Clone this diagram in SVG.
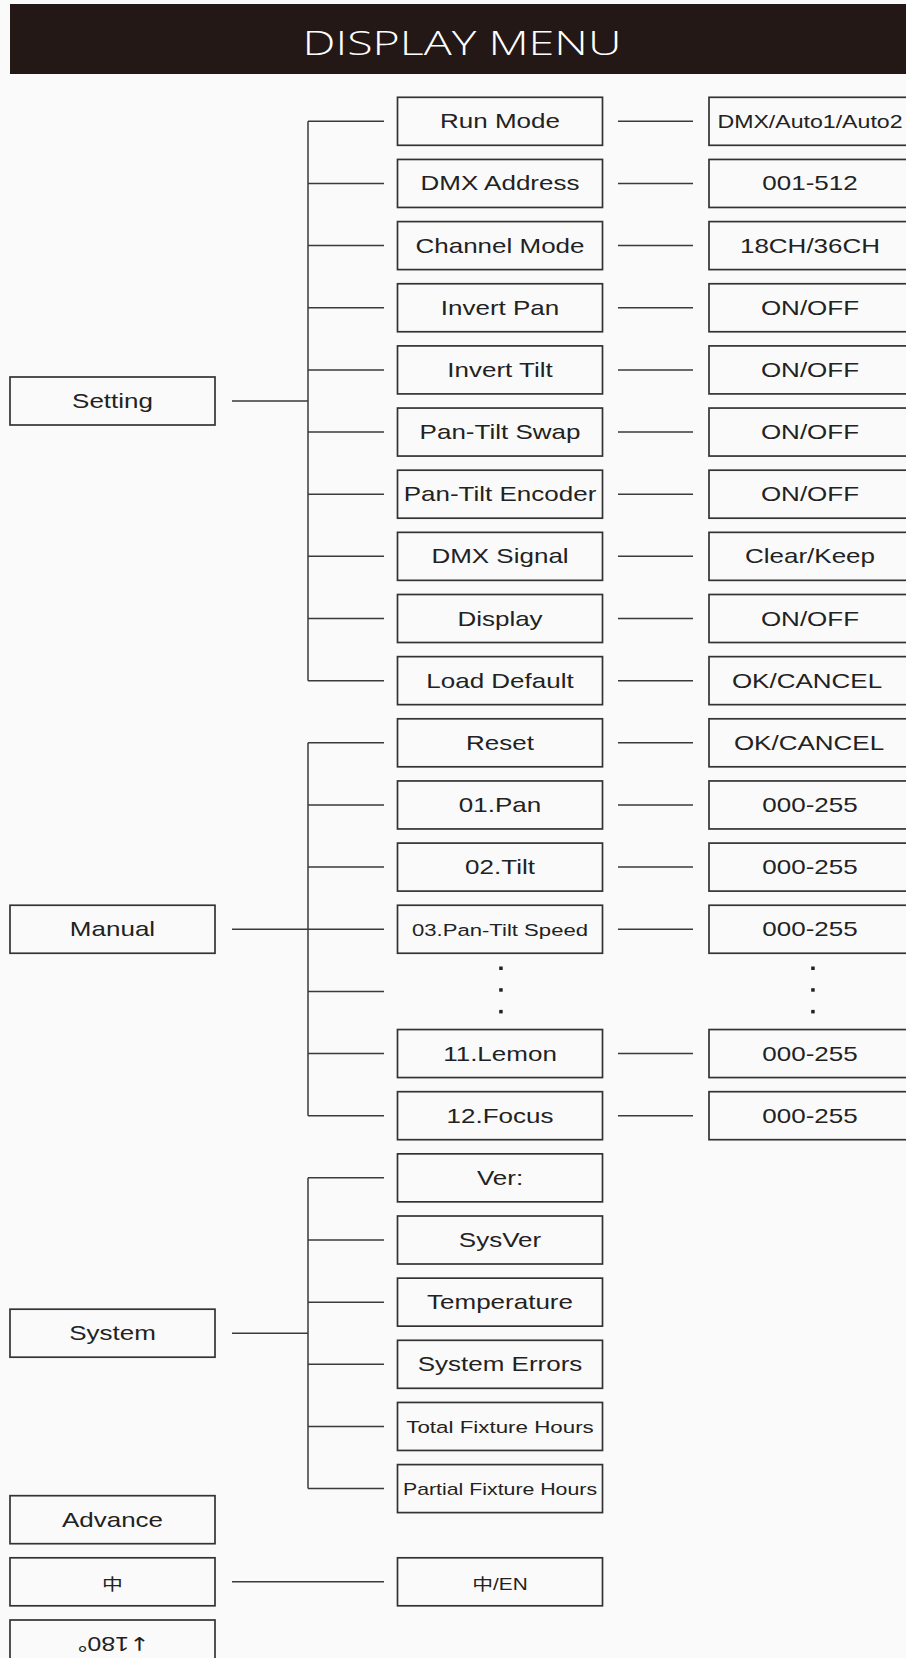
<svg xmlns="http://www.w3.org/2000/svg" width="906" height="1658" viewBox="0 0 906 1658">
<style>
.bx{fill:#fafafa;stroke:#333;stroke-width:1.7}
.ln{fill:none;stroke:#3a3a3a;stroke-width:1.5}
.t{font-family:"Liberation Sans",Arial,sans-serif;font-size:20px;fill:#222;text-anchor:middle}
.s17{font-size:17px}
.cjk{font-family:"Liberation Sans","Noto Sans CJK SC",sans-serif;font-size:16px}
.dot{fill:#222}
</style>
<rect x="0" y="0" width="906" height="1658" fill="#fafafa"/>
<g id="header">
<rect x="10" y="4" width="896" height="70" fill="#231815"/>
<text x="302.5" y="55" textLength="319" lengthAdjust="spacingAndGlyphs" style="font-family:'Open Sans',sans-serif;font-weight:300;font-size:32.5px;fill:#fff">DISPLAY MENU</text>
</g>
<g id="connectors">
<path class="ln" d="M232 401H308M308 121.3V680.65M308 121.3H384M308 183.45H384M308 245.6H384M308 307.75H384M308 369.9H384M308 432.05H384M308 494.2H384M308 556.35H384M308 618.5H384M308 680.65H384"/>
<path class="ln" d="M618 121.3H693M618 183.45H693M618 245.6H693M618 307.75H693M618 369.9H693M618 432.05H693M618 494.2H693M618 556.35H693M618 618.5H693M618 680.65H693"/>
<path class="ln" d="M232 929.25H308M308 742.8V1115.7M308 742.8H384M308 804.95H384M308 867.1H384M308 929.25H384M308 991.4H384M308 1053.55H384M308 1115.7H384"/>
<path class="ln" d="M618 742.8H693M618 804.95H693M618 867.1H693M618 929.25H693M618 1053.55H693M618 1115.7H693"/>
<path class="ln" d="M232 1333.2H308M308 1177.85V1488.6M308 1177.85H384M308 1240H384M308 1302.15H384M308 1364.3H384M308 1426.45H384M308 1488.6H384"/>
<path class="ln" d="M232 1581.8H384"/>
</g>
<g id="setting"><rect class="bx" x="10" y="377" width="205" height="48"/><text class="t" transform="translate(112.5 408) scale(1.3 1)">Setting</text></g>
<g id="manual"><rect class="bx" x="10" y="905.25" width="205" height="48"/><text class="t" transform="translate(112.5 936.2) scale(1.3 1)">Manual</text></g>
<g id="system"><rect class="bx" x="10" y="1309.2" width="205" height="48"/><text class="t" transform="translate(112.5 1340.2) scale(1.3 1)">System</text></g>
<g id="advance"><rect class="bx" x="10" y="1495.7" width="205" height="48"/><text class="t" transform="translate(112.5 1526.7) scale(1.3 1)">Advance</text></g>
<g id="lang"><rect class="bx" x="10" y="1557.8" width="205" height="48"/><text class="t cjk" transform="translate(112.5 1589.5) scale(1.3 1)">中</text></g>
<g id="rotate"><rect class="bx" x="10" y="1620" width="205" height="60"/><text class="t" x="0" y="7" textLength="72" lengthAdjust="spacingAndGlyphs" style="font-size:19.5px" transform="translate(113.5 1644) rotate(180)"><tspan style="font-family:'DejaVu Sans',sans-serif;font-size:19px">↓</tspan>180°</text></g>

<g id="run-mode"><rect class="bx" x="397.5" y="97.3" width="205" height="48"/><text class="t" transform="translate(500 128.3) scale(1.3 1)">Run Mode</text></g>
<g id="dmx-address"><rect class="bx" x="397.5" y="159.45" width="205" height="48"/><text class="t" transform="translate(500 190.45) scale(1.3 1)">DMX Address</text></g>
<g id="channel-mode"><rect class="bx" x="397.5" y="221.6" width="205" height="48"/><text class="t" transform="translate(500 252.6) scale(1.3 1)">Channel Mode</text></g>
<g id="invert-pan"><rect class="bx" x="397.5" y="283.75" width="205" height="48"/><text class="t" transform="translate(500 314.75) scale(1.3 1)">Invert Pan</text></g>
<g id="invert-tilt"><rect class="bx" x="397.5" y="345.9" width="205" height="48"/><text class="t" transform="translate(500 376.9) scale(1.3 1)">Invert Tilt</text></g>
<g id="pan-tilt-swap"><rect class="bx" x="397.5" y="408.05" width="205" height="48"/><text class="t" transform="translate(500 439.05) scale(1.3 1)">Pan-Tilt Swap</text></g>
<g id="pan-tilt-encoder"><rect class="bx" x="397.5" y="470.2" width="205" height="48"/><text class="t" transform="translate(500 501.2) scale(1.3 1)">Pan-Tilt Encoder</text></g>
<g id="dmx-signal"><rect class="bx" x="397.5" y="532.35" width="205" height="48"/><text class="t" transform="translate(500 563.35) scale(1.3 1)">DMX Signal</text></g>
<g id="display"><rect class="bx" x="397.5" y="594.5" width="205" height="48"/><text class="t" transform="translate(500 625.5) scale(1.3 1)">Display</text></g>
<g id="load-default"><rect class="bx" x="397.5" y="656.65" width="205" height="48"/><text class="t" transform="translate(500 687.65) scale(1.3 1)">Load Default</text></g>
<g id="reset"><rect class="bx" x="397.5" y="718.8" width="205" height="48"/><text class="t" transform="translate(500 749.8) scale(1.3 1)">Reset</text></g>
<g id="pan"><rect class="bx" x="397.5" y="780.95" width="205" height="48"/><text class="t" transform="translate(500 811.95) scale(1.3 1)">01.Pan</text></g>
<g id="tilt"><rect class="bx" x="397.5" y="843.1" width="205" height="48"/><text class="t" transform="translate(500 874.1) scale(1.3 1)">02.Tilt</text></g>
<g id="pan-tilt-speed"><rect class="bx" x="397.5" y="905.25" width="205" height="48"/><text class="t s17" transform="translate(500 935.5) scale(1.3 1)">03.Pan-Tilt Speed</text></g>
<g id="mid-dots"><rect class="dot" x="499.2" y="966.5" width="3.5" height="3.5"/><rect class="dot" x="499.2" y="988.2" width="3.5" height="3.5"/><rect class="dot" x="499.2" y="1009.9" width="3.5" height="3.5"/></g>
<g id="lemon"><rect class="bx" x="397.5" y="1029.55" width="205" height="48"/><text class="t" transform="translate(500 1060.55) scale(1.3 1)">11.Lemon</text></g>
<g id="focus"><rect class="bx" x="397.5" y="1091.7" width="205" height="48"/><text class="t" transform="translate(500 1122.7) scale(1.3 1)">12.Focus</text></g>
<g id="ver"><rect class="bx" x="397.5" y="1153.85" width="205" height="48"/><text class="t" transform="translate(500 1184.85) scale(1.3 1)">Ver:</text></g>
<g id="sysver"><rect class="bx" x="397.5" y="1216" width="205" height="48"/><text class="t" transform="translate(500 1247) scale(1.3 1)">SysVer</text></g>
<g id="temperature"><rect class="bx" x="397.5" y="1278.15" width="205" height="48"/><text class="t" transform="translate(500 1308.9) scale(1.3 1)">Temperature</text></g>
<g id="system-errors"><rect class="bx" x="397.5" y="1340.3" width="205" height="48"/><text class="t" transform="translate(500 1371.3) scale(1.3 1)">System Errors</text></g>
<g id="total-hours"><rect class="bx" x="397.5" y="1402.45" width="205" height="48"/><text class="t" style="font-size:17.2px" transform="translate(500 1432.7) scale(1.3 1)">Total Fixture Hours</text></g>
<g id="partial-hours"><rect class="bx" x="397.5" y="1464.6" width="205" height="48"/><text class="t" style="font-size:16.4px" transform="translate(500 1495) scale(1.3 1)">Partial Fixture Hours</text></g>
<g id="lang-value"><rect class="bx" x="397.5" y="1557.8" width="205" height="48"/><text class="t cjk" transform="translate(500 1589.5) scale(1.3 1)">中/EN</text></g>

<g id="v-run-mode"><rect class="bx" x="709" y="97.3" width="220" height="48"/><text class="t" style="font-size:17.8px" transform="translate(810 127.7) scale(1.3 1)">DMX/Auto1/Auto2</text></g>
<g id="v-dmx-address"><rect class="bx" x="709" y="159.45" width="220" height="48"/><text class="t" transform="translate(810 190.45) scale(1.3 1)">001-512</text></g>
<g id="v-channel-mode"><rect class="bx" x="709" y="221.6" width="220" height="48"/><text class="t" transform="translate(810 252.6) scale(1.3 1)">18CH/36CH</text></g>
<g id="v-invert-pan"><rect class="bx" x="709" y="283.75" width="220" height="48"/><text class="t" transform="translate(810 314.75) scale(1.3 1)">ON/OFF</text></g>
<g id="v-invert-tilt"><rect class="bx" x="709" y="345.9" width="220" height="48"/><text class="t" transform="translate(810 376.9) scale(1.3 1)">ON/OFF</text></g>
<g id="v-pan-tilt-swap"><rect class="bx" x="709" y="408.05" width="220" height="48"/><text class="t" transform="translate(810 439.05) scale(1.3 1)">ON/OFF</text></g>
<g id="v-pan-tilt-encoder"><rect class="bx" x="709" y="470.2" width="220" height="48"/><text class="t" transform="translate(810 501.2) scale(1.3 1)">ON/OFF</text></g>
<g id="v-dmx-signal"><rect class="bx" x="709" y="532.35" width="220" height="48"/><text class="t" transform="translate(810 563.35) scale(1.3 1)">Clear/Keep</text></g>
<g id="v-display"><rect class="bx" x="709" y="594.5" width="220" height="48"/><text class="t" transform="translate(810 625.5) scale(1.3 1)">ON/OFF</text></g>
<g id="v-load-default"><rect class="bx" x="709" y="656.65" width="220" height="48"/><text class="t" transform="translate(807 687.65) scale(1.3 1)">OK/CANCEL</text></g>
<g id="v-reset"><rect class="bx" x="709" y="718.8" width="220" height="48"/><text class="t" transform="translate(809 749.8) scale(1.3 1)">OK/CANCEL</text></g>
<g id="v-pan"><rect class="bx" x="709" y="780.95" width="220" height="48"/><text class="t" transform="translate(810 811.95) scale(1.3 1)">000-255</text></g>
<g id="v-tilt"><rect class="bx" x="709" y="843.1" width="220" height="48"/><text class="t" transform="translate(810 874.1) scale(1.3 1)">000-255</text></g>
<g id="v-pan-tilt-speed"><rect class="bx" x="709" y="905.25" width="220" height="48"/><text class="t" transform="translate(810 936.25) scale(1.3 1)">000-255</text></g>
<g id="right-dots"><rect class="dot" x="811.2" y="966.5" width="3.5" height="3.5"/><rect class="dot" x="811.2" y="988.2" width="3.5" height="3.5"/><rect class="dot" x="811.2" y="1009.9" width="3.5" height="3.5"/></g>
<g id="v-lemon"><rect class="bx" x="709" y="1029.55" width="220" height="48"/><text class="t" transform="translate(810 1060.55) scale(1.3 1)">000-255</text></g>
<g id="v-focus"><rect class="bx" x="709" y="1091.7" width="220" height="48"/><text class="t" transform="translate(810 1122.7) scale(1.3 1)">000-255</text></g>
</svg>
